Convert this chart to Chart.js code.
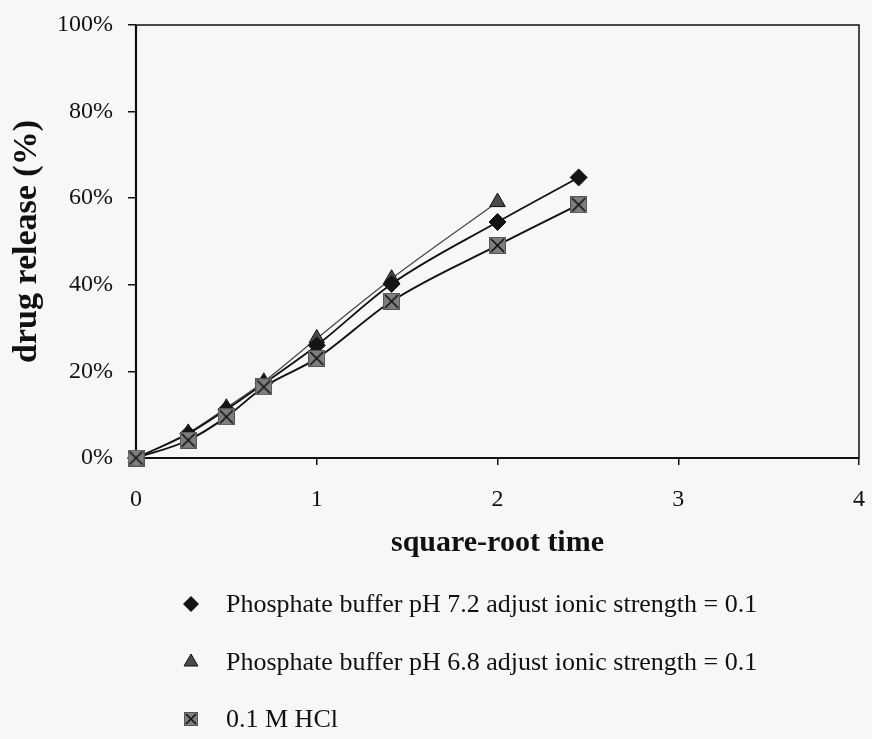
<!DOCTYPE html>
<html lang="en">
<head>
<meta charset="UTF-8">
<title>drug release vs square-root time</title>
<script src="https://cdn.jsdelivr.net/npm/chart.js"></script>
<style>
    html, body { margin: 0; padding: 0; background: #f7f7f5; }
</style>
</head>
<body>
<canvas id="chart" width="872" height="739"></canvas>
<script>
// values (x = square-root time, y = % released)
const sqrtTime = [0, 0.289, 0.5, 0.707, 1, 1.414, 2, 2.449];
const ph72 = [0, 5.6, 11.2, 17.2, 26.0, 40.2, 54.5, 64.8];
const ph68 = [0, 5.8, 11.6, 17.6, 27.6, 41.4, 59.1];
const hcl = [0, 4.1, 9.5, 16.4, 23.0, 36.2, 49.1, 58.5];
const seriesNames = [
    'Phosphate buffer pH 7.2 adjust ionic strength = 0.1',
    'Phosphate buffer pH 6.8 adjust ionic strength = 0.1',
    '0.1 M HCl'
];
const yTickValues = [0, 20, 40, 60, 80, 100];
const xTickValues = [0, 1, 2, 3, 4];

const serif = "'Liberation Serif', 'DejaVu Serif', serif";

function toPoints(values) {
    return values.map((v, i) => ({ x: sqrtTime[i], y: v }));
}

// grey square with a black cross, like the Excel marker
function crossSquare(size) {
    const c = document.createElement('canvas');
    c.width = size;
    c.height = size;
    const g = c.getContext('2d');
    g.fillStyle = '#7e7e7e';
    g.fillRect(0, 0, size, size);
    g.strokeStyle = '#555';
    g.lineWidth = 1;
    g.strokeRect(0.5, 0.5, size - 1, size - 1);
    g.strokeStyle = '#111';
    g.lineWidth = 1.6;
    g.beginPath();
    g.moveTo(2, 2); g.lineTo(size - 2, size - 2);
    g.moveTo(size - 2, 2); g.lineTo(2, size - 2);
    g.stroke();
    return c;
}

const squareMark = crossSquare(17);
const squareMarkSmall = crossSquare(14);

function drawMarker(ctx, ds, x, y, r) {
    ctx.save();
    if (ds.pointStyle === 'rectRot') {
        ctx.beginPath();
        ctx.moveTo(x, y - r); ctx.lineTo(x + r, y); ctx.lineTo(x, y + r); ctx.lineTo(x - r, y);
        ctx.closePath();
        ctx.fillStyle = ds.pointBackgroundColor;
        ctx.fill();
    } else if (ds.pointStyle === 'triangle') {
        ctx.beginPath();
        ctx.moveTo(x, y - r);
        ctx.lineTo(x + r * 0.87, y + r * 0.5);
        ctx.lineTo(x - r * 0.87, y + r * 0.5);
        ctx.closePath();
        ctx.fillStyle = ds.pointBackgroundColor;
        ctx.fill();
        ctx.strokeStyle = ds.pointBorderColor;
        ctx.lineWidth = 1;
        ctx.stroke();
    } else {
        ctx.drawImage(squareMarkSmall, x - 7, y - 7);
    }
    ctx.restore();
}

const framePlugin = {
    id: 'frame',
    beforeDatasetsDraw(chart) {
        const { ctx, chartArea: a } = chart;
        ctx.save();
        ctx.strokeStyle = '#111';
        ctx.lineWidth = 1.5;
        ctx.strokeRect(a.left, a.top, a.right - a.left, a.bottom - a.top);
        ctx.lineWidth = 2.2;
        ctx.beginPath();
        ctx.moveTo(a.left, a.top);
        ctx.lineTo(a.left, a.bottom);
        ctx.lineTo(a.right, a.bottom);
        ctx.stroke();
        ctx.restore();
    }
};

const legendPlugin = {
    id: 'stackedLegend',
    afterDraw(chart) {
        const ctx = chart.ctx;
        const rows = [604, 662, 719];
        ctx.save();
        ctx.font = '26px ' + serif;
        ctx.fillStyle = '#111';
        ctx.textBaseline = 'middle';
        chart.data.datasets.forEach((ds, i) => {
            drawMarker(ctx, ds, 191, rows[i], 8);
            ctx.fillText(ds.label, 226, rows[i] + 1);
        });
        ctx.restore();
    }
};

new Chart(document.getElementById('chart'), {
    type: 'scatter',
    data: {
        datasets: [
            {
                label: seriesNames[0],
                data: toPoints(ph72),
                showLine: true,
                cubicInterpolationMode: 'monotone',
                clip: false,
                borderColor: '#111',
                borderWidth: 1.8,
                pointStyle: 'rectRot',
                pointRadius: 8.5,
                pointHoverRadius: 8.5,
                pointBackgroundColor: '#141414',
                pointBorderColor: '#141414',
                pointBorderWidth: 1,
                order: 1
            },
            {
                label: seriesNames[1],
                data: toPoints(ph68),
                showLine: true,
                cubicInterpolationMode: 'monotone',
                clip: false,
                borderColor: '#444',
                borderWidth: 1.2,
                pointStyle: 'triangle',
                pointRadius: 9,
                pointHoverRadius: 9,
                pointBackgroundColor: '#4a4a4a',
                pointBorderColor: '#111',
                pointBorderWidth: 1,
                order: 2
            },
            {
                label: seriesNames[2],
                data: toPoints(hcl),
                showLine: true,
                cubicInterpolationMode: 'monotone',
                clip: false,
                borderColor: '#111',
                borderWidth: 1.9,
                pointStyle: squareMark,
                pointRadius: 8,
                pointBackgroundColor: '#7e7e7e',
                pointBorderColor: '#111',
                order: 0
            }
        ]
    },
    options: {
        responsive: false,
        animation: false,
        layout: { padding: { left: 0, right: 13, top: 25, bottom: 175 } },
        plugins: {
            legend: { display: false },
            tooltip: { enabled: false }
        },
        scales: {
            x: {
                type: 'linear',
                min: 0,
                max: 4,
                afterFit(scale) {
                    scale.height = 106;
                    scale.paddingLeft = 0;
                    scale.paddingRight = 0;
                },
                afterBuildTicks(scale) { scale.ticks = xTickValues.map(v => ({ value: v })); },
                border: { display: false },
                grid: { drawOnChartArea: false, tickLength: 7, color: '#111', lineWidth: 1.5 },
                ticks: {
                    padding: 20,
                    color: '#111',
                    font: { family: serif, size: 24 }
                },
                title: {
                    display: true,
                    text: 'square-root time',
                    color: '#111',
                    font: { family: serif, size: 30, weight: 'bold' },
                    padding: { top: 4, bottom: 3 }
                }
            },
            y: {
                min: 0,
                max: 100,
                afterFit(scale) {
                    scale.width = 136;
                    scale.paddingTop = 0;
                    scale.paddingBottom = 0;
                },
                afterBuildTicks(scale) { scale.ticks = yTickValues.map(v => ({ value: v })); },
                border: { display: false },
                grid: { drawOnChartArea: false, tickLength: 8, color: '#111', lineWidth: 1.5 },
                ticks: {
                    padding: 15,
                    color: '#111',
                    font: { family: serif, size: 24 },
                    callback: v => v + '%'
                },
                title: {
                    display: true,
                    text: 'drug release (%)',
                    color: '#111',
                    font: { family: serif, size: 34, weight: 'bold' },
                    padding: { top: 7, bottom: 4 }
                }
            }
        }
    },
    plugins: [framePlugin, legendPlugin]
});
</script>
</body>
</html>
